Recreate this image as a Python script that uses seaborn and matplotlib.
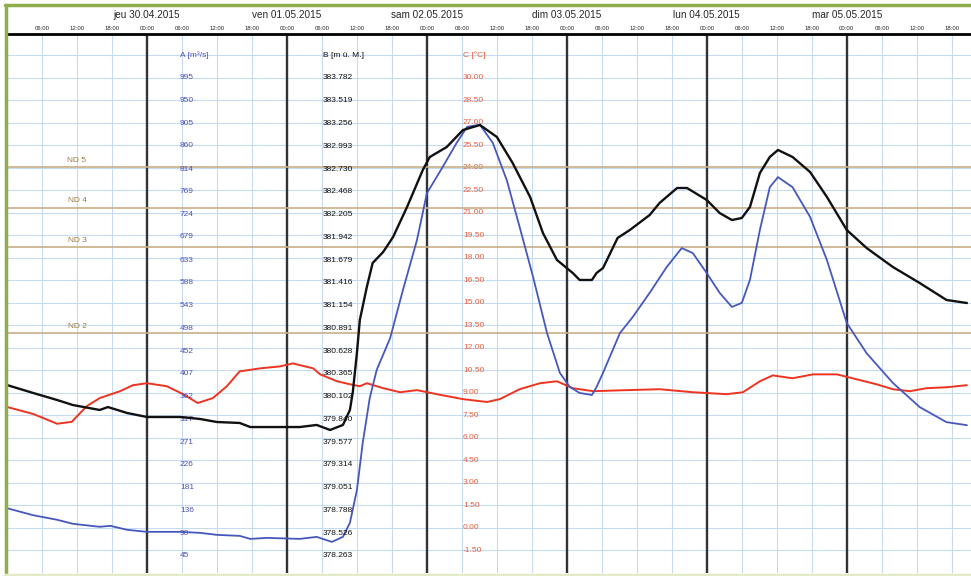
import numpy as np
import pandas as pd
import seaborn as sns
import matplotlib.pyplot as plt
from matplotlib.lines import Line2D

# time axis: hours since 29.04.2015 00:00
black_h = [0, 4.5, 8.6, 11.3, 15.9, 17.3, 20.6, 24, 29.7, 33.1, 36, 39.9, 41.7, 44.6, 50.2,
           53.1, 55.4, 57.6, 58.8, 59.3, 60, 60.5, 61.7, 62.7, 64.5, 66.2, 68.6, 71.3, 72.5,
           75.4, 78.2, 81.1, 84, 86.7, 89.7, 91.9, 94.3, 97, 98.2, 100.3, 101.1, 102.2, 104.7,
           106.8, 110.2, 111.9, 114.9, 116.6, 120, 122.2, 124.3, 126, 127.4, 129.1, 130.8,
           132.2, 134.7, 137.7, 140.6, 144, 147.4, 151.9, 156.5, 161.1, 164.6]
black_b = [380.237, 380.145, 380.064, 380.006, 379.949, 379.983, 379.914, 379.868, 379.868,
           379.845, 379.810, 379.799, 379.752, 379.752, 379.752, 379.776, 379.718, 379.776,
           379.949, 380.157, 380.607, 380.988, 381.369, 381.646, 381.773, 381.946, 382.293,
           382.720, 382.870, 382.985, 383.182, 383.239, 383.101, 382.801, 382.408, 381.992,
           381.681, 381.531, 381.450, 381.450, 381.531, 381.588, 381.935, 382.027, 382.200,
           382.339, 382.512, 382.512, 382.373, 382.223, 382.142, 382.166, 382.293, 382.685,
           382.870, 382.951, 382.870, 382.697, 382.408, 382.027, 381.819, 381.600, 381.415,
           381.219, 381.184]

blue_h = [0, 4.5, 8.6, 11.3, 15.9, 17.7, 20.6, 24, 29.7, 33.1, 36, 39.9, 41.7, 44.6, 50.2,
          53.1, 55.7, 57.6, 58.8, 60, 61, 62.2, 63.4, 65.7, 67.9, 70.3, 72, 74.7, 77.1, 78.9,
          81.1, 83.3, 85.7, 87.9, 90.2, 92.6, 94.8, 96.5, 98.2, 100.3, 101.1, 102.2, 105.1,
          107.3, 110.2, 113.1, 115.7, 117.6, 120, 122.2, 124.3, 126, 127.4, 129.1, 130.8,
          132.2, 134.7, 137.7, 140.6, 144, 147.4, 151.9, 156.5, 161.1, 164.6]
blue_a = [140, 126, 117, 109, 103, 105, 97, 93, 93, 91, 87, 85, 79, 81, 79,
          83, 73, 83, 111, 176, 270, 359, 415, 478, 574, 673, 766, 818, 866, 898,
          902, 866, 792, 699, 600, 488, 409, 381, 369, 365, 381, 409, 488,
          520, 568, 619, 657, 647, 607, 568, 540, 548, 594, 693, 778,
          798, 778, 719, 633, 508, 448, 389, 341, 311, 305]

red_h = [0, 4.5, 8.6, 11.1, 13.7, 15.9, 19.4, 21.6, 24, 27.4, 30.2, 32.7, 35.3, 37.7, 39.9,
         43.4, 46.8, 49, 52.5, 53.7, 56.6, 58.8, 60.5, 61.7, 64.5, 67.4, 70.3, 73.7, 78.2,
         82.3, 84.5, 87.9, 91.4, 94.3, 97, 100.5, 106.3, 111.9, 117.6, 123.4, 126.2, 129.1,
         131.3, 134.7, 138.2, 142.3, 145, 149.1, 151.9, 154.8, 157.7, 161.1, 164.6]
red_c = [8.06, 7.59, 6.94, 7.07, 8.12, 8.65, 9.11, 9.51, 9.64, 9.44, 8.91, 8.32, 8.65, 9.44,
         10.43, 10.63, 10.76, 10.96, 10.63, 10.23, 9.77, 9.57, 9.44, 9.64, 9.31, 9.04, 9.18,
         8.91, 8.58, 8.39, 8.58, 9.24, 9.64, 9.77, 9.31, 9.11, 9.18, 9.24, 9.04, 8.91, 9.04,
         9.77, 10.16, 9.97, 10.23, 10.23, 9.97, 9.57, 9.24, 9.11, 9.31, 9.37, 9.51]

a_labels = [45, 90, 136, 181, 226, 271, 317, 362, 407, 452, 498, 543, 588, 633, 679,
            724, 769, 814, 860, 905, 950, 995]
b_labels = [378.263, 378.526, 378.788, 379.051, 379.314, 379.577, 379.840, 380.102,
            380.365, 380.628, 380.891, 381.154, 381.416, 381.679, 381.942, 382.205,
            382.468, 382.730, 382.993, 383.256, 383.519, 383.782]
c_labels = [-1.5, 0.0, 1.5, 3.0, 4.5, 6.0, 7.5, 9.0, 10.5, 12.0, 13.5, 15.0, 16.5, 18.0,
            19.5, 21.0, 22.5, 24.0, 25.5, 27.0, 28.5, 30.0]

nd_names = ['ND 2', 'ND 3', 'ND 4', 'ND 5']
nd_levels = [488, 659, 737, 818]

day_hours = [24, 48, 72, 96, 120, 144]
day_labels = ['jeu 30.04.2015', 'ven 01.05.2015', 'sam 02.05.2015',
              'dim 03.05.2015', 'lun 04.05.2015', 'mar 05.05.2015']

sns.set_style('white')
plt.rcParams['font.family'] = ['Liberation Sans', 'DejaVu Sans']

BLUE, BLACK, RED = '#4658bd', '#111111', '#ee3420'
ROW_LO, ROW_HI = -0.747, 22.933   # visible rows below first / above last label


def row_lims(labels):
    step = (labels[-1] - labels[0]) / (len(labels) - 1)
    return labels[0] + ROW_LO * step, labels[0] + ROW_HI * step, step


fig = plt.figure(figsize=(9.71, 5.76), dpi=100)
ax_c = fig.add_axes([7 / 971, 3 / 576, 964 / 971, 539 / 576])
ax_a = ax_c.twinx()
ax_b = ax_c.twinx()

# grid on the bottom axis
c_lo, c_hi, c_step = row_lims(c_labels)
ax_c.set_xlim(0, 165.3)
ax_c.set_ylim(c_lo, c_hi)
ax_c.set_yticks([c_labels[0] + k * c_step for k in range(-1, 23)])
hour_ticks = list(range(0, 166, 6))
ax_c.set_xticks(hour_ticks)
ax_c.xaxis.tick_top()
ax_c.set_xticklabels(['' if h == 0 else f'{h % 24:02d}:00' for h in hour_ticks], fontsize=4.3)
ax_c.tick_params(axis='x', length=0, pad=2)
ax_c.tick_params(axis='y', length=0, labelleft=False, labelright=False)
ax_c.grid(color='#c6dbf1', lw=0.8)
for s in ['left', 'right', 'bottom']:
    ax_c.spines[s].set_visible(False)
ax_c.spines['top'].set_linewidth(2)
ax_c.spines['top'].set_color('black')

for h, lab in zip(day_hours, day_labels):
    ax_c.axvline(h, color='#333333', lw=1.7, zorder=2)
    ax_c.text(h, 1 + 19 / 539, lab, transform=ax_c.get_xaxis_transform(),
              ha='center', va='center', fontsize=7.2, clip_on=False)

for ax in (ax_a, ax_b):
    for s in ax.spines.values():
        s.set_visible(False)
    ax.tick_params(length=0, labelright=False, labelleft=False)

# series
sns.lineplot(x=red_h, y=red_c, ax=ax_c, color=RED, lw=1.4, zorder=3)
sns.lineplot(x=blue_h, y=blue_a, ax=ax_a, color=BLUE, lw=1.3, zorder=3)
sns.lineplot(x=black_h, y=black_b, ax=ax_b, color=BLACK, lw=1.7, zorder=3)

a_lo, a_hi, a_step = row_lims(a_labels)
b_lo, b_hi, b_step = row_lims(b_labels)
ax_a.set_ylim(a_lo, a_hi)
ax_b.set_ylim(b_lo, b_hi)
for ax in (ax_a, ax_b, ax_c):
    ax.set_xlabel('')
    ax.set_ylabel('')

# alarm levels
for name, lev in zip(nd_names, nd_levels):
    ax_a.axhline(lev, color='#c8ae88', lw=1.2, zorder=1)
    ax_a.annotate(name, (0.0726, lev), xycoords=ax_a.get_yaxis_transform(),
                  xytext=(0, 2.5), textcoords='offset points',
                  ha='center', va='bottom', fontsize=6, color='#9a7a40')

# scale labels inside the chart
lab_size = 6
for v in a_labels:
    ax_a.text(0.1795, v, f'{v}', transform=ax_a.get_yaxis_transform(),
              ha='left', va='center', fontsize=lab_size, color='#4b55b8', zorder=1)
for v in b_labels:
    ax_b.text(0.3278, v, f'{v:.3f}', transform=ax_b.get_yaxis_transform(),
              ha='left', va='center', fontsize=lab_size, color='#111111', zorder=1)
for v in c_labels:
    ax_c.text(0.473, v, f'{v:.2f}', transform=ax_c.get_yaxis_transform(),
              ha='left', va='center', fontsize=lab_size, color='#e8603f', zorder=1)

ax_a.text(0.1795, a_labels[0] + 22 * a_step, 'A [m³/s]', transform=ax_a.get_yaxis_transform(),
          ha='left', va='center', fontsize=lab_size, color='#4b55b8')
ax_b.text(0.3278, b_labels[0] + 22 * b_step, 'B [m ü. M.]', transform=ax_b.get_yaxis_transform(),
          ha='left', va='center', fontsize=lab_size, color='#111111')
ax_c.text(0.473, c_labels[0] + 22 * c_step, 'C [°C]', transform=ax_c.get_yaxis_transform(),
          ha='left', va='center', fontsize=lab_size, color='#e8603f')

# green frame
green = '#8fae4b'
fig.add_artist(Line2D([6 / 971, 6 / 971], [1.5 / 576, 1 - 5 / 576], transform=fig.transFigure,
                      color=green, lw=2.5))
fig.add_artist(Line2D([5 / 971, 1], [1 - 5 / 576, 1 - 5 / 576], transform=fig.transFigure,
                      color=green, lw=2.5))
fig.add_artist(Line2D([5 / 971, 1], [1.5 / 576, 1.5 / 576], transform=fig.transFigure,
                      color='#e3ebc6', lw=2.5))

fig.savefig('out.png', dpi=100)
